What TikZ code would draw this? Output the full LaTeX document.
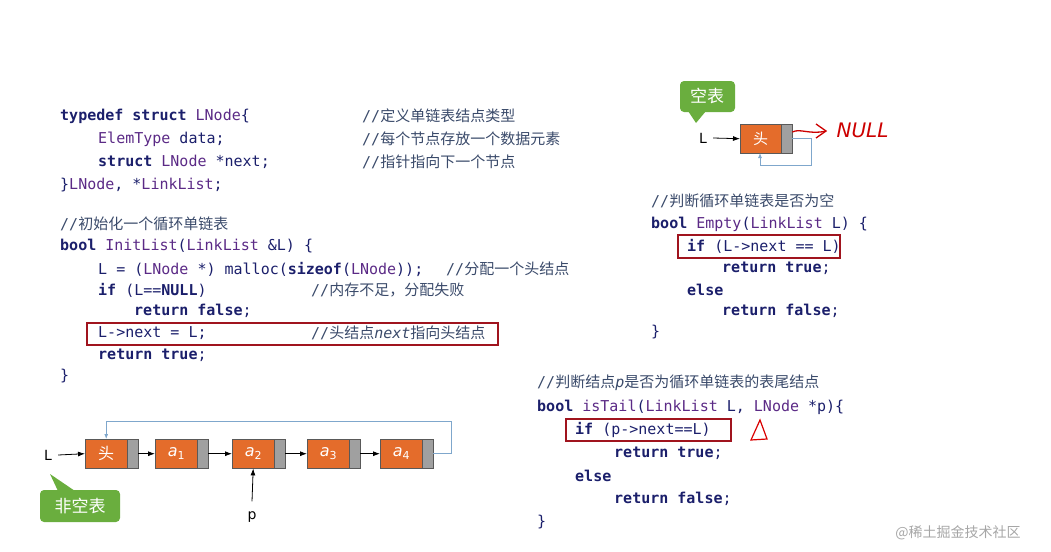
\documentclass[tikz,border=0pt]{standalone}
\usepackage{fontspec}
\setmainfont{DejaVu Sans}
\newfontfamily\code{DejaVu Sans Mono}
\newfontfamily\cjk{Noto Sans CJK SC}
\usetikzlibrary{arrows.meta}
\definecolor{kw}{HTML}{1B1F6B}
\definecolor{ty}{HTML}{5B2A86}
\definecolor{cm}{HTML}{3A4A6A}
\definecolor{org}{HTML}{E46C2B}
\definecolor{gry}{HTML}{A0A0A0}
\definecolor{grn}{HTML}{6AAE3E}
\definecolor{dred}{HTML}{A0141E}
\definecolor{lblue}{HTML}{7FA7CC}
\newcommand{\K}[1]{{\color{kw}\bfseries #1}}
\newcommand{\T}[1]{{\color{ty}#1}}
\newcommand{\C}[1]{{\color{cm}//\cjk #1}}
\newcommand{\av}[1]{{\itshape a}\raisebox{-3pt}{\fontsize{11}{11}\selectfont #1}}
\begin{document}
\begin{tikzpicture}[x=1pt,y=-1pt,
 cl/.style={anchor=west,inner sep=0,font=\code\fontsize{15}{15}\selectfont,text=kw},
 cb/.style={draw=dred,line width=1.6pt},
 ob/.style={fill=org,draw=gray!70!black,line width=0.4pt,text=white},
 gb/.style={fill=gry,draw=gray!70!black,line width=0.4pt},
 ar/.style={-{Latex[length=7pt,width=5pt]},line width=0.8pt},
 lp/.style={draw=lblue,line width=0.9pt},
 lbl/.style={font=\fontsize{14}{14}\selectfont,inner sep=0}]
\useasboundingbox (0,0) rectangle (1051,551);
% left code
\node[cl] (l1) at (60,116) {\K{typedef struct} \T{LNode}\{};
\node[cl] at (362,116) {\C{定义单链表结点类型}};
\node[cl] at (98,139) {\T{ElemType} data;};
\node[cl] at (362,139) {\C{每个节点存放一个数据元素}};
\node[cl] at (98,162) {\K{struct} \T{LNode} *next;};
\node[cl] at (362,162) {\C{指针指向下一个节点}};
\node[cl] at (60,185) {\}\T{LNode}, *\T{LinkList};};
\node[cl] at (60,224) {\C{初始化一个循环单链表}};
\node[cl] at (60,246) {\K{bool} \T{InitList}(\T{LinkList} \&L) \{};
\node[cl] at (98,269) {L = (\T{LNode} *) malloc(\K{sizeof}(\T{LNode}));};
\node[cl] at (446,269) {\C{分配一个头结点}};
\node[cl] at (98,290) {\K{if} (L==\K{NULL})};
\node[cl] at (311,290) {\C{内存不足，分配失败}};
\node[cl] at (134,311) {\K{return false};};
\node[cl] at (98,333) {L->next = L;};
\node[cl] at (311,333) {\C{头结点{\code\itshape next}指向头结点}};
\draw[cb] (87,323) rectangle (498,345);
\node[cl] at (98,355) {\K{return true};};
\node[cl] at (60,376) {\}};
% right code 1
\node[cl] at (651,201) {\C{判断循环单链表是否为空}};
\node[cl] at (651,224) {\K{bool} \T{Empty}(\T{LinkList} L) \{};
\node[cl] at (687,246) {\K{if} (L->next == L)};
\draw[cb] (678,235) rectangle (840,258);
\node[cl] at (722,268) {\K{return true};};
\node[cl] at (687,290) {\K{else}};
\node[cl] at (722,311) {\K{return false};};
\node[cl] at (651,332) {\}};
% right code 2
\node[cl] at (537,383) {\C{判断结点{\code\itshape p}是否为循环单链表的表尾结点}};
\node[cl] at (537,407) {\K{bool} \T{isTail}(\T{LinkList} L, \T{LNode} *p)\{};
\node[cl] at (575,430) {\K{if} (p->next==L)};
\draw[cb] (566,419) rectangle (731,441);
\draw[red!85!black,line width=1.2pt] (760,420) -- (751,440) -- (767,439) -- cycle;
\node[cl] at (614,453) {\K{return true};};
\node[cl] at (575,476) {\K{else}};
\node[cl] at (614,499) {\K{return false};};
\node[cl] at (537,522) {\}};
% bottom list
\foreach \n/\x/\t in {h/85/{\cjk 头},a1/155/{\av{1}},a2/232/{\av{2}},a3/307/{\av{3}},a4/380/{\av{4}}}{
 \node[ob,minimum width=42pt,minimum height=29pt,inner sep=0,anchor=north west,font=\fontsize{16}{16}\selectfont] (\n) at (\x,439) {\t};
 \node[gb,minimum width=11pt,minimum height=29pt,inner sep=0,anchor=north west] (\n g) at (\x+42,439) {};
}
\draw[ar] (hg.east) -- (a1.west);
\draw[ar] (a1g.east) -- (a2.west);
\draw[ar] (a2g.east) -- (a3.west);
\draw[ar] (a3g.east) -- (a4.west);
\node[lbl] (L1) at (48,455) {L};
\draw[ar] (L1.east)+(6,0) -- (h.west);
\coordinate (c1) at (451,421);
\draw[lp,-{Latex[length=5pt,width=4pt]}] (a4g.east) -| (c1) -| (h.north);
\node[lbl] (p) at (252,517) {p};
\draw[ar] (p.north)+(0,-10) -- (a2.south);
\fill[grn,rounded corners=4pt] (40,490) rectangle (120,522);
\fill[grn] (58,491) -- (50,474) -- (75,491) -- cycle;
\node[text=white,font=\cjk\fontsize{17}{17}\selectfont] (ne) at (80,506) {非空表};
% empty list
\fill[grn,rounded corners=4pt] (680,81) rectangle (735,112);
\fill[grn] (688,111) -- (696,123) -- (706,111) -- cycle;
\node[text=white,font=\cjk\fontsize{17}{17}\selectfont] (ke) at (707,96) {空表};
\node[ob,minimum width=41pt,minimum height=29pt,inner sep=0,anchor=north west,font=\cjk\fontsize{15}{15}\selectfont] (eh) at (740,124) {头};
\node[gb,minimum width=11pt,minimum height=29pt,inner sep=0,anchor=north west] (ehg) at (781,124) {};
\node[lbl] (L2) at (703,138) {L};
\draw[ar] (L2.east)+(6,0) -- (eh.west);
\coordinate (c2) at (811,165);
\draw[lp,-{Latex[length=5pt,width=4pt]}] (ehg.east) -| (c2) -| (760,153);
\draw[red!80!black,line width=1.3pt] (ehg.north east)+(0,8) .. controls (800,128) and (810,135) .. (826,131);
\draw[red!80!black,line width=1.3pt] (816,124) -- (826,131) -- (816,138);
\node[text=red!80!black,font=\itshape\fontsize{20}{20}\selectfont,anchor=west] (nl) at (833,130) {NULL};
\node[text=gray!70,font=\cjk\fontsize{14}{14}\selectfont] (wm) at (958,533) {@稀土掘金技术社区};
\end{tikzpicture}
\end{document}
